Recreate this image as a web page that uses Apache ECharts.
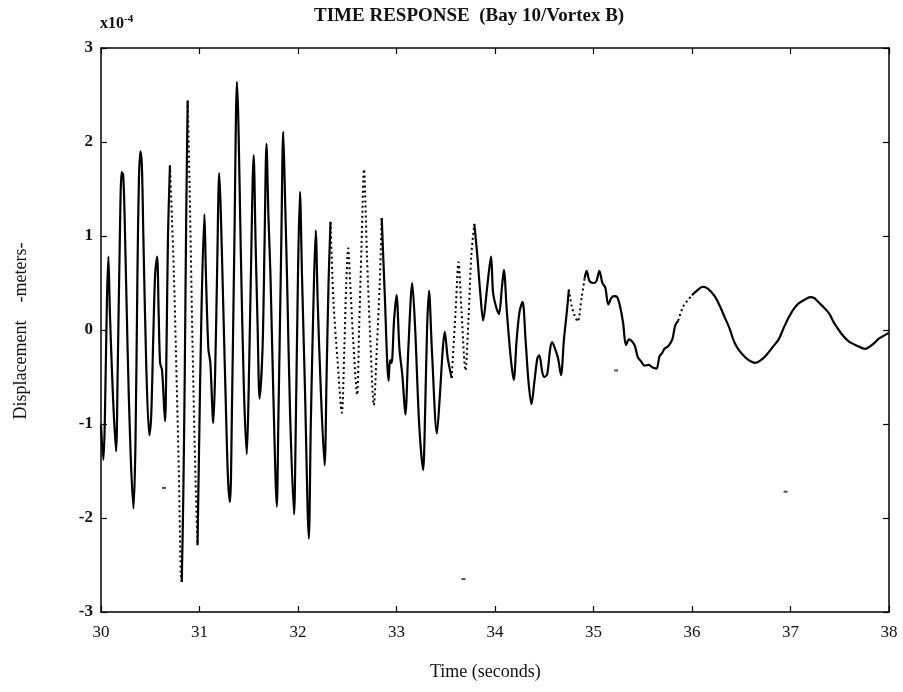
<!DOCTYPE html>
<html>
<head>
<meta charset="utf-8">
<script src="https://cdn.jsdelivr.net/npm/echarts@6/dist/echarts.min.js"></script>
<style>
html,body{margin:0;padding:0;background:#fff;}
#chart{width:903px;height:692px;}
</style>
</head>
<body>
<div id="chart"></div>
<script>
// Time samples (seconds) and displacement (x10^-4 m)
const times = [
30.00,30.01,30.025,30.04,30.06,30.075,30.09,30.11,30.13,30.153,30.17,30.19,30.21,30.225,30.24,30.27,30.30,30.33,30.35,30.37,30.385,30.40,30.415,30.43,30.46,30.49,30.51,30.53,30.55,30.57,30.585,30.60,30.62,30.65,30.665,30.68,30.70,
30.72,30.74,30.76,30.79,30.81,30.82,30.835,30.85,30.865,30.88,30.90,30.93,30.96,30.98,
30.995,31.02,31.05,31.065,31.09,31.11,31.14,31.16,31.18,31.20,31.215,31.24,31.27,31.29,31.31,31.33,31.355,31.38,31.395,31.42,31.45,31.48,31.50,31.52,31.55,31.57,31.59,31.61,31.64,31.66,31.68,31.70,31.72,31.75,31.785,31.80,31.83,31.85,31.87,31.89,31.92,31.96,31.975,32.00,32.02,32.04,32.07,32.11,32.13,32.155,32.18,32.20,32.23,32.27,32.29,32.31,32.33,
32.36,32.40,32.445,32.47,32.49,32.51,32.53,32.56,32.60,32.62,32.645,32.67,32.70,32.73,32.77,32.80,32.83,32.85,
32.88,32.92,32.935,32.95,32.975,33.00,33.03,33.06,33.09,33.12,33.16,33.19,33.23,33.27,33.29,33.31,33.33,33.36,33.41,33.44,33.47,33.49,33.52,33.56,
33.60,33.63,33.66,33.70,33.73,33.76,33.79,
33.82,33.85,33.88,33.92,33.96,33.98,34.01,34.04,34.07,34.09,34.12,34.16,34.19,34.22,34.25,34.28,34.31,34.34,34.37,34.40,34.43,34.45,34.48,34.50,34.53,34.56,34.58,34.61,34.64,34.67,34.70,34.73,34.75,
34.78,34.81,34.84,34.88,34.91,
34.93,34.96,35.00,35.03,35.06,35.09,35.12,35.15,35.18,35.21,35.24,35.27,35.30,35.33,35.36,35.39,35.42,35.45,35.48,35.52,35.56,35.60,35.64,35.67,35.70,35.72,35.76,35.80,35.83,35.86,
35.91,35.96,36.00,
36.05,36.11,36.16,36.23,36.28,36.33,36.38,36.43,36.48,36.54,36.59,36.64,36.70,36.76,36.82,36.88,36.93,36.98,37.03,37.08,37.14,37.20,37.24,37.28,37.33,37.39,37.44,37.49,37.54,37.59,37.64,37.68,37.72,37.76,37.80,37.85,37.90,37.95,38.00
];
const disp = [
-1.0,-1.2,-1.38,-0.9,0.3,0.78,0.2,-0.4,-0.9,-1.29,-0.4,0.9,1.68,1.65,1.2,-0.2,-1.3,-1.9,-1.2,0.6,1.6,1.9,1.75,1.0,-0.4,-1.12,-0.9,-0.1,0.6,0.78,0.2,-0.35,-0.43,-0.97,-0.2,1.0,1.75,
1.2,0.6,-0.2,-1.5,-2.6,-2.68,-1.8,-0.5,1.2,2.44,1.5,-0.2,-1.6,-2.29,
-1.3,0.2,1.23,0.6,-0.2,-0.35,-0.99,-0.4,0.7,1.67,1.3,0.3,-0.9,-1.6,-1.83,-0.8,1.0,2.64,2.2,0.8,-0.6,-1.32,-0.6,0.5,1.86,0.9,0.04,-0.73,-0.2,0.9,1.98,1.2,0.6,-0.7,-1.88,-1.0,0.9,2.11,1.34,0.5,-0.9,-1.96,-1.2,0.6,1.47,0.6,-0.6,-2.22,-1.0,0.2,1.06,0.3,-0.6,-1.44,-0.5,0.5,1.15,
0.3,-0.3,-0.88,-0.2,0.5,0.87,0.5,-0.1,-0.69,0.0,0.9,1.71,0.8,0.0,-0.80,-0.2,0.5,1.19,
0.4,-0.54,-0.32,-0.35,0.1,0.37,-0.2,-0.49,-0.9,-0.2,0.50,0.0,-1.0,-1.49,-0.9,0.0,0.42,-0.23,-1.1,-0.7,-0.2,-0.02,-0.3,-0.51,
0.2,0.72,0.2,-0.43,0.1,0.8,1.13,
0.8,0.4,0.1,0.45,0.78,0.4,0.25,0.17,0.45,0.64,0.2,-0.3,-0.53,-0.1,0.2,0.30,-0.1,-0.55,-0.79,-0.55,-0.3,-0.27,-0.45,-0.5,-0.47,-0.2,-0.13,-0.2,-0.3,-0.48,-0.1,0.2,0.43,
0.25,0.15,0.09,0.35,0.55,
0.63,0.52,0.50,0.52,0.63,0.5,0.45,0.27,0.34,0.36,0.35,0.25,0.08,-0.16,-0.1,-0.12,-0.17,-0.29,-0.33,-0.38,-0.37,-0.40,-0.41,-0.28,-0.24,-0.2,-0.17,-0.1,0.05,0.10,
0.25,0.32,0.37,
0.42,0.46,0.44,0.36,0.26,0.14,0.02,-0.13,-0.22,-0.29,-0.33,-0.35,-0.32,-0.26,-0.18,-0.1,0.02,0.13,0.22,0.28,0.32,0.35,0.34,0.30,0.25,0.18,0.08,0.0,-0.07,-0.12,-0.15,-0.17,-0.19,-0.20,-0.18,-0.14,-0.09,-0.06,-0.03
];
// Time spans drawn with a dotted trace
const dottedSpans = [[30.70,30.82],[30.88,30.98],[32.33,32.85],[33.56,33.79],[34.75,34.91],[35.86,36.00]];
// Stray specks on the scanned plot
const speckT = [30.64, 33.68, 35.23, 36.95];
const speckV = [-1.68, -2.65, -0.43, -1.72];
const xTicks = [30,31,32,33,34,35,36,37,38];
const yTicks = [-3,-2,-1,0,1,2,3];

function inSpan(t, strict){
  return dottedSpans.some(([a,b]) => strict ? (t>a+1e-9 && t<b-1e-9) : (t>=a-1e-9 && t<=b+1e-9));
}
const solidData = times.map((t,i) => inSpan(t,true) ? [t,'-'] : [t, disp[i]]);
const dottedData = times.map((t,i) => inSpan(t,false) ? [t, disp[i]] : [t,'-']);
const speckData = speckT.map((t,i)=>[t,speckV[i]]);

const serif = '"Liberation Serif","Times New Roman",serif';
const chart = echarts.init(document.getElementById('chart'), null, {renderer:'canvas'});
function axisCommon(){
  return {
    axisLine:{show:true,onZero:false,lineStyle:{color:'#000',width:1.5}},
    axisTick:{show:true,inside:true,length:6,lineStyle:{color:'#000',width:1.2}},
    splitLine:{show:false}
  };
}
chart.setOption({
  animation:false,
  backgroundColor:'#fff',
  grid:{left:101,right:14,top:48,bottom:80,containLabel:false},
  xAxis:[
    Object.assign({type:'value',min:xTicks[0],max:xTicks[xTicks.length-1],interval:1,position:'bottom',
      axisLabel:{color:'#111',fontFamily:serif,fontSize:17,margin:12}},axisCommon()),
    Object.assign({type:'value',min:xTicks[0],max:xTicks[xTicks.length-1],interval:1,position:'top',
      axisLabel:{show:false}},axisCommon())
  ],
  yAxis:[
    Object.assign({type:'value',min:yTicks[0],max:yTicks[yTicks.length-1],interval:1,position:'left',
      axisLabel:{color:'#111',fontFamily:serif,fontSize:17,margin:8,fontWeight:'bold'}},axisCommon()),
    Object.assign({type:'value',min:yTicks[0],max:yTicks[yTicks.length-1],interval:1,position:'right',
      axisLabel:{show:false}},axisCommon())
  ],
  series:[
    {type:'line',data:solidData,showSymbol:false,smooth:0.3,connectNulls:false,
      lineStyle:{color:'#000',width:2.2},xAxisIndex:0,yAxisIndex:0,z:3},
    {type:'line',data:dottedData,showSymbol:false,smooth:0.3,connectNulls:false,
      lineStyle:{color:'#000',width:2,type:[2,3]},xAxisIndex:0,yAxisIndex:0,z:3},
    {type:'scatter',data:speckData,symbol:'rect',symbolSize:[4,2],
      itemStyle:{color:'#222'},xAxisIndex:0,yAxisIndex:0}
  ],
  graphic:[
    {type:'text',left:314,top:7,style:{text:'TIME RESPONSE  (Bay 10/Vortex B)',font:'bold 19px '+serif,fill:'#111'}},
    {type:'text',left:100,top:14,style:{text:'x10{s|-4}',rich:{s:{fontSize:11,fontFamily:serif,fontWeight:'bold',fill:'#111',verticalAlign:'top',padding:[0,0,8,0]}},font:'bold 16px '+serif,fill:'#111'}},
    {type:'text',left:430,top:663,style:{text:'Time (seconds)',font:'18px '+serif,fill:'#111'}},
    {type:'text',x:21,y:331,rotation:Math.PI/2,style:{text:'Displacement    -meters-',font:'18px '+serif,fill:'#111',align:'center',verticalAlign:'middle'}}
  ]
});
</script>
</body>
</html>
